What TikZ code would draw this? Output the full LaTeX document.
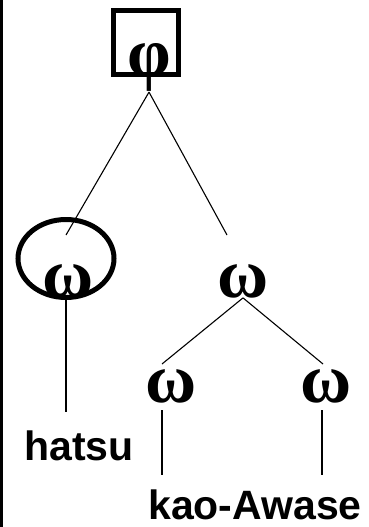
\documentclass[tikz,border=0pt]{standalone}
\usepackage{fontspec}
\setmainfont{Liberation Serif}
\newfontfamily\labelfont{Liberation Sans}
\usetikzlibrary{positioning,shapes.geometric}
\colorlet{treeInk}{black}
\tikzstyle{greekLetter}=[inner sep=0pt,font=\bfseries\fontsize{70}{70}\selectfont]
\tikzstyle{leafLabel}=[inner sep=0pt,font=\labelfont\bfseries\fontsize{41}{41}\selectfont]
\tikzstyle{branch}=[draw=treeInk,line width=1.1pt]
\tikzstyle{heavyMark}=[draw=treeInk,line width=5pt,inner sep=0pt]

\begin{document}
\begin{tikzpicture}[x=1pt,y=-1pt]
\useasboundingbox (0,0) rectangle (369,527);
\newcommand{\Wbase}{297}
        % left rule
        \draw[treeInk,line width=3pt] (1.5,0) -- (1.5,527);
        % greek letters
        \node[greekLetter,anchor=base] (phiRoot) at (149,77) {φ};
        \node[greekLetter,anchor=base] (omegaLeft) at (68,\Wbase) {ω};
        \node[greekLetter,anchor=base] (omegaRight) at (243,\Wbase) {ω};
        \node[greekLetter,anchor=base] (omegaKao) at (171,402) {ω};
        \node[greekLetter,anchor=base] (omegaAwase) at (326,402) {ω};
        % marks
        \node[heavyMark,rectangle,minimum width=65pt,minimum height=64pt]
                (boxMark) at (146,42.5) {};
        \node[heavyMark,ellipse,minimum width=96pt,minimum height=78pt]
                (ringMark) at (66,258.5) {};
        % labels
        \node[leafLabel,anchor=base] (hatsu) at (79,460) {hatsu};
        \node[leafLabel,anchor=base] (kaoAwase) at (255,519) {kao-Awase};
        % line ends
        \coordinate (leftHead) at (66,235);
        \coordinate (rightHead) at (227,235);
        \coordinate (kaoHead) at (162,364);
        \coordinate (awaseHead) at (323,364);
        \coordinate (hatsuHead) at (66,412);
        \coordinate (kaoFoot) at (162,410);
        \coordinate (kaoTail) at (162,475);
        \coordinate (awaseFoot) at (322,410);
        \coordinate (awaseTail) at (322,475);
        % branches
        \draw[branch] (phiRoot.south) -- (leftHead);
        \draw[branch] (phiRoot.south) -- (rightHead);
        \draw[branch] (omegaRight.south) -- (kaoHead);
        \draw[branch] (omegaRight.south) -- (awaseHead);
        \draw[branch] (ringMark.south) -- (hatsuHead);
        \draw[branch] (kaoFoot) -- (kaoTail);
        \draw[branch] (awaseFoot) -- (awaseTail);
\end{tikzpicture}
\end{document}
